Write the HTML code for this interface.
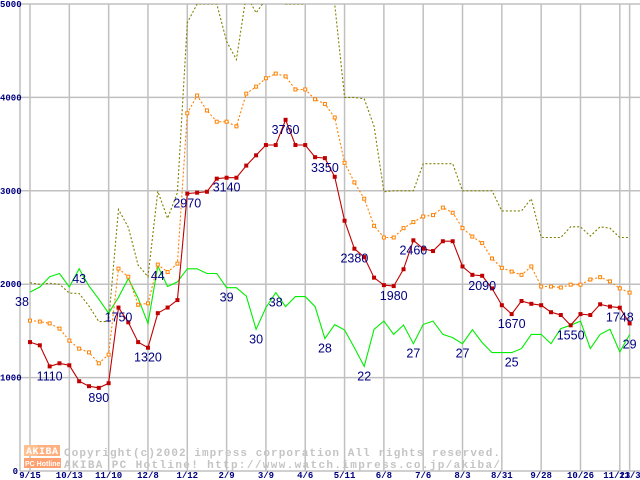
<!DOCTYPE html>
<html><head><meta charset="utf-8"><style>
html,body{margin:0;padding:0;background:#fff;}
svg{display:block;}
</style></head><body>
<svg id="chart" width="640" height="480" viewBox="0 0 640 480" xmlns="http://www.w3.org/2000/svg">
<g id="grid"></g>
<g id="watermark">
  <rect x="24" y="445" width="13" height="11" fill="#ffc090"/>
  <rect x="37" y="445" width="23" height="11" fill="#ffb080"/>
  <text x="26" y="454" font-family="Liberation Mono, monospace" font-size="10" font-weight="bold" fill="#fff" textLength="32">AKIBA</text>
  <rect x="24" y="458" width="37" height="10" fill="#ffa070"/>
  <text x="25" y="466" font-family="Liberation Sans, sans-serif" font-size="7" font-weight="bold" fill="#fff">PC Hotline!</text>
  <text x="64" y="456" font-family="Liberation Mono, monospace" font-size="11" font-weight="bold" fill="#c4c4c4" textLength="436" lengthAdjust="spacing">Copyright(c)2002 impress corporation All rights reserved.</text>
  <text x="64" y="468" font-family="Liberation Mono, monospace" font-size="11" font-weight="bold" fill="#c4c4c4" textLength="436" lengthAdjust="spacing">AKIBA PC Hotline!  http://www.watch.impress.co.jp/akiba/</text>
</g>
<g id="series"></g>
<g id="labels"></g>
<g id="axes"></g>
</svg>
<script>
const yTicks = [0, 1000, 2000, 3000, 4000, 5000];
const xTickIdx = [0,4,8,12,16,20,24,28,32,36,40,44,48,52,56,60,61];
const xTickLabels = ["9/15","10/13","11/10","12/8","1/12","2/9","3/9","4/6","5/11","6/8","7/6","8/3","8/31","9/28","10/26","11/23","11/30"];
const redValues = [1380,1346,1120,1153,1132,961,908,890,940,1750,1592,1380,1320,1690,1750,1830,2970,2980,2990,3130,3140,3140,3270,3380,3490,3490,3760,3490,3490,3360,3350,3150,2680,2380,2290,2070,1990,1980,2160,2470,2380,2355,2460,2460,2190,2100,2090,1955,1775,1680,1820,1790,1775,1700,1670,1560,1680,1670,1785,1760,1748,1580];
const orangeValues = [1610,1600,1580,1525,1396,1310,1270,1153,1246,2167,2080,1780,1795,2210,2130,2220,3830,4020,3860,3740,3740,3690,4040,4115,4205,4255,4225,4085,4085,3980,3930,3785,3300,3090,2915,2625,2500,2500,2600,2665,2725,2740,2820,2765,2600,2510,2440,2275,2175,2135,2100,2190,1975,1975,1965,1995,1995,2050,2075,2030,1955,1910];
const oliveValues = [2015,2000,2010,2000,1905,1900,1765,1600,1600,2800,2610,2205,2080,2995,2705,2980,4800,5000,5000,5000,4600,4405,5100,4905,5050,5100,5000,5000,5000,5200,5500,5000,4000,4000,3985,3690,2990,3000,3000,3000,3290,3290,3290,3290,3000,3000,3000,3000,2785,2785,2785,2915,2500,2500,2500,2615,2615,2515,2615,2600,2500,2500];
const greenValues = [1915,1970,2080,2115,1970,2165,1980,1840,1690,1860,2060,1850,1580,2195,1975,2025,2165,2165,2115,2115,1963,1963,1873,1517,1750,1910,1760,1867,1867,1760,1418,1567,1510,1320,1120,1517,1605,1463,1563,1363,1570,1605,1463,1428,1363,1513,1375,1268,1268,1268,1310,1463,1463,1363,1525,1560,1605,1310,1463,1517,1275,1460];
const redLabelIdx = [2,7,9,12,16,20,26,30,33,37,39,46,49,55,60];
const redLabelText = ["1110","890","1750","1320","2970","3140","3760","3350","2380","1980","2460","2090","1670","1550","1748"];
const greenLabelIdx = [0,5,13,20,23,25,30,34,39,44,49,61];
const greenLabelText = ["38","43","44","39","30","38","28","22","27","27","25","29"];

const NS = "http://www.w3.org/2000/svg";
const X0 = 30, DX = 9.83, Y0 = 471, PY = 0.0934, TOP = 4, LEFT = 20, RIGHT = 640;
function xs(i){ return X0 + i*DX; }
function ys(v){ return Y0 - v*PY; }
function mk(tag, attrs, parent){ const e=document.createElementNS(NS,tag); for(const k in attrs) e.setAttribute(k,attrs[k]); parent.appendChild(e); return e; }

const grid = document.getElementById('grid');
const axes = document.getElementById('axes');
const series = document.getElementById('series');
const labels = document.getElementById('labels');

const defs = mk('defs',{},document.getElementById('chart'));
const cp = mk('clipPath',{id:'plotclip'},defs);
mk('rect',{x:LEFT,y:TOP,width:RIGHT-LEFT,height:Y0-TOP},cp);
series.setAttribute('clip-path','url(#plotclip)');

yTicks.forEach(v=>{
  const l = mk('line',{x1:LEFT,x2:RIGHT,y1:ys(v),y2:ys(v),stroke:'#c0c0c0','stroke-width':1.5},grid);
  
  
  const t = mk('text',{x: v===0?18:0, y: ys(v)+3, 'font-family':'Liberation Mono, monospace','font-size':9,'font-weight':'bold',fill:'#000080','text-anchor':v===0?'end':'start'},axes);
  t.textContent = String(v);
  
  
});
mk('line',{x1:LEFT,x2:LEFT,y1:TOP,y2:Y0,stroke:'#c0c0c0','stroke-width':1.5},grid);
xTickIdx.forEach((i,k)=>{
  const l = mk('line',{x1:xs(i),x2:xs(i),y1:TOP,y2:Y0,stroke:'#c0c0c0','stroke-width':1.5},grid);
  
  
  const t = mk('text',{x:xs(i)+(k===15?-3:(k===16?3:0)), y:478,'font-family':'Liberation Mono, monospace','font-size':9,'font-weight':'bold',fill:'#000080','text-anchor':'middle'},axes);
  t.textContent = xTickLabels[k];
  
  
});

function line(vals, color, dash, width, name){
  const pts = vals.map((v,i)=>xs(i).toFixed(1)+','+ys(v).toFixed(1)).join(' ');
  const p = mk('polyline',{points:pts,fill:'none',stroke:color,'stroke-width':width},series);
  if(dash) p.setAttribute('stroke-dasharray',dash);
  
  
}
line(oliveValues,'#808000','2,2',1.1,'max-price-line');
line(greenValues,'#00ee00',null,1.1,'count-line');
line(orangeValues,'#ff8000','2,2',1.1,'average-price-line');
orangeValues.forEach((v,i)=>{
  const r = mk('rect',{x:xs(i)-1.5,y:ys(v)-1.5,width:3,height:3,fill:'#fff',stroke:'#ff8000','stroke-width':1},series);
  
  
});
line(redValues,'#c00000',null,1.1,'min-price-line');
redValues.forEach((v,i)=>{
  const r = mk('rect',{x:xs(i)-2,y:ys(v)-2,width:4,height:4,fill:'#c00000'},series);
  
  
});

function addLabel(x,y,txt,name){
  const t = mk('text',{x:x,y:y+14,'font-family':'Liberation Sans, sans-serif','font-size':12.5,fill:'#000080','text-anchor':'middle'},labels);
  t.textContent = txt;
  
  
}
redLabelIdx.forEach((i,k)=>addLabel(xs(i), ys(redValues[i]), redLabelText[k], 'min-price-label'));
greenLabelIdx.forEach((i,k)=>addLabel(i===0?22:xs(i), ys(greenValues[i]), greenLabelText[k], 'count-label'));
</script>
</body></html>
